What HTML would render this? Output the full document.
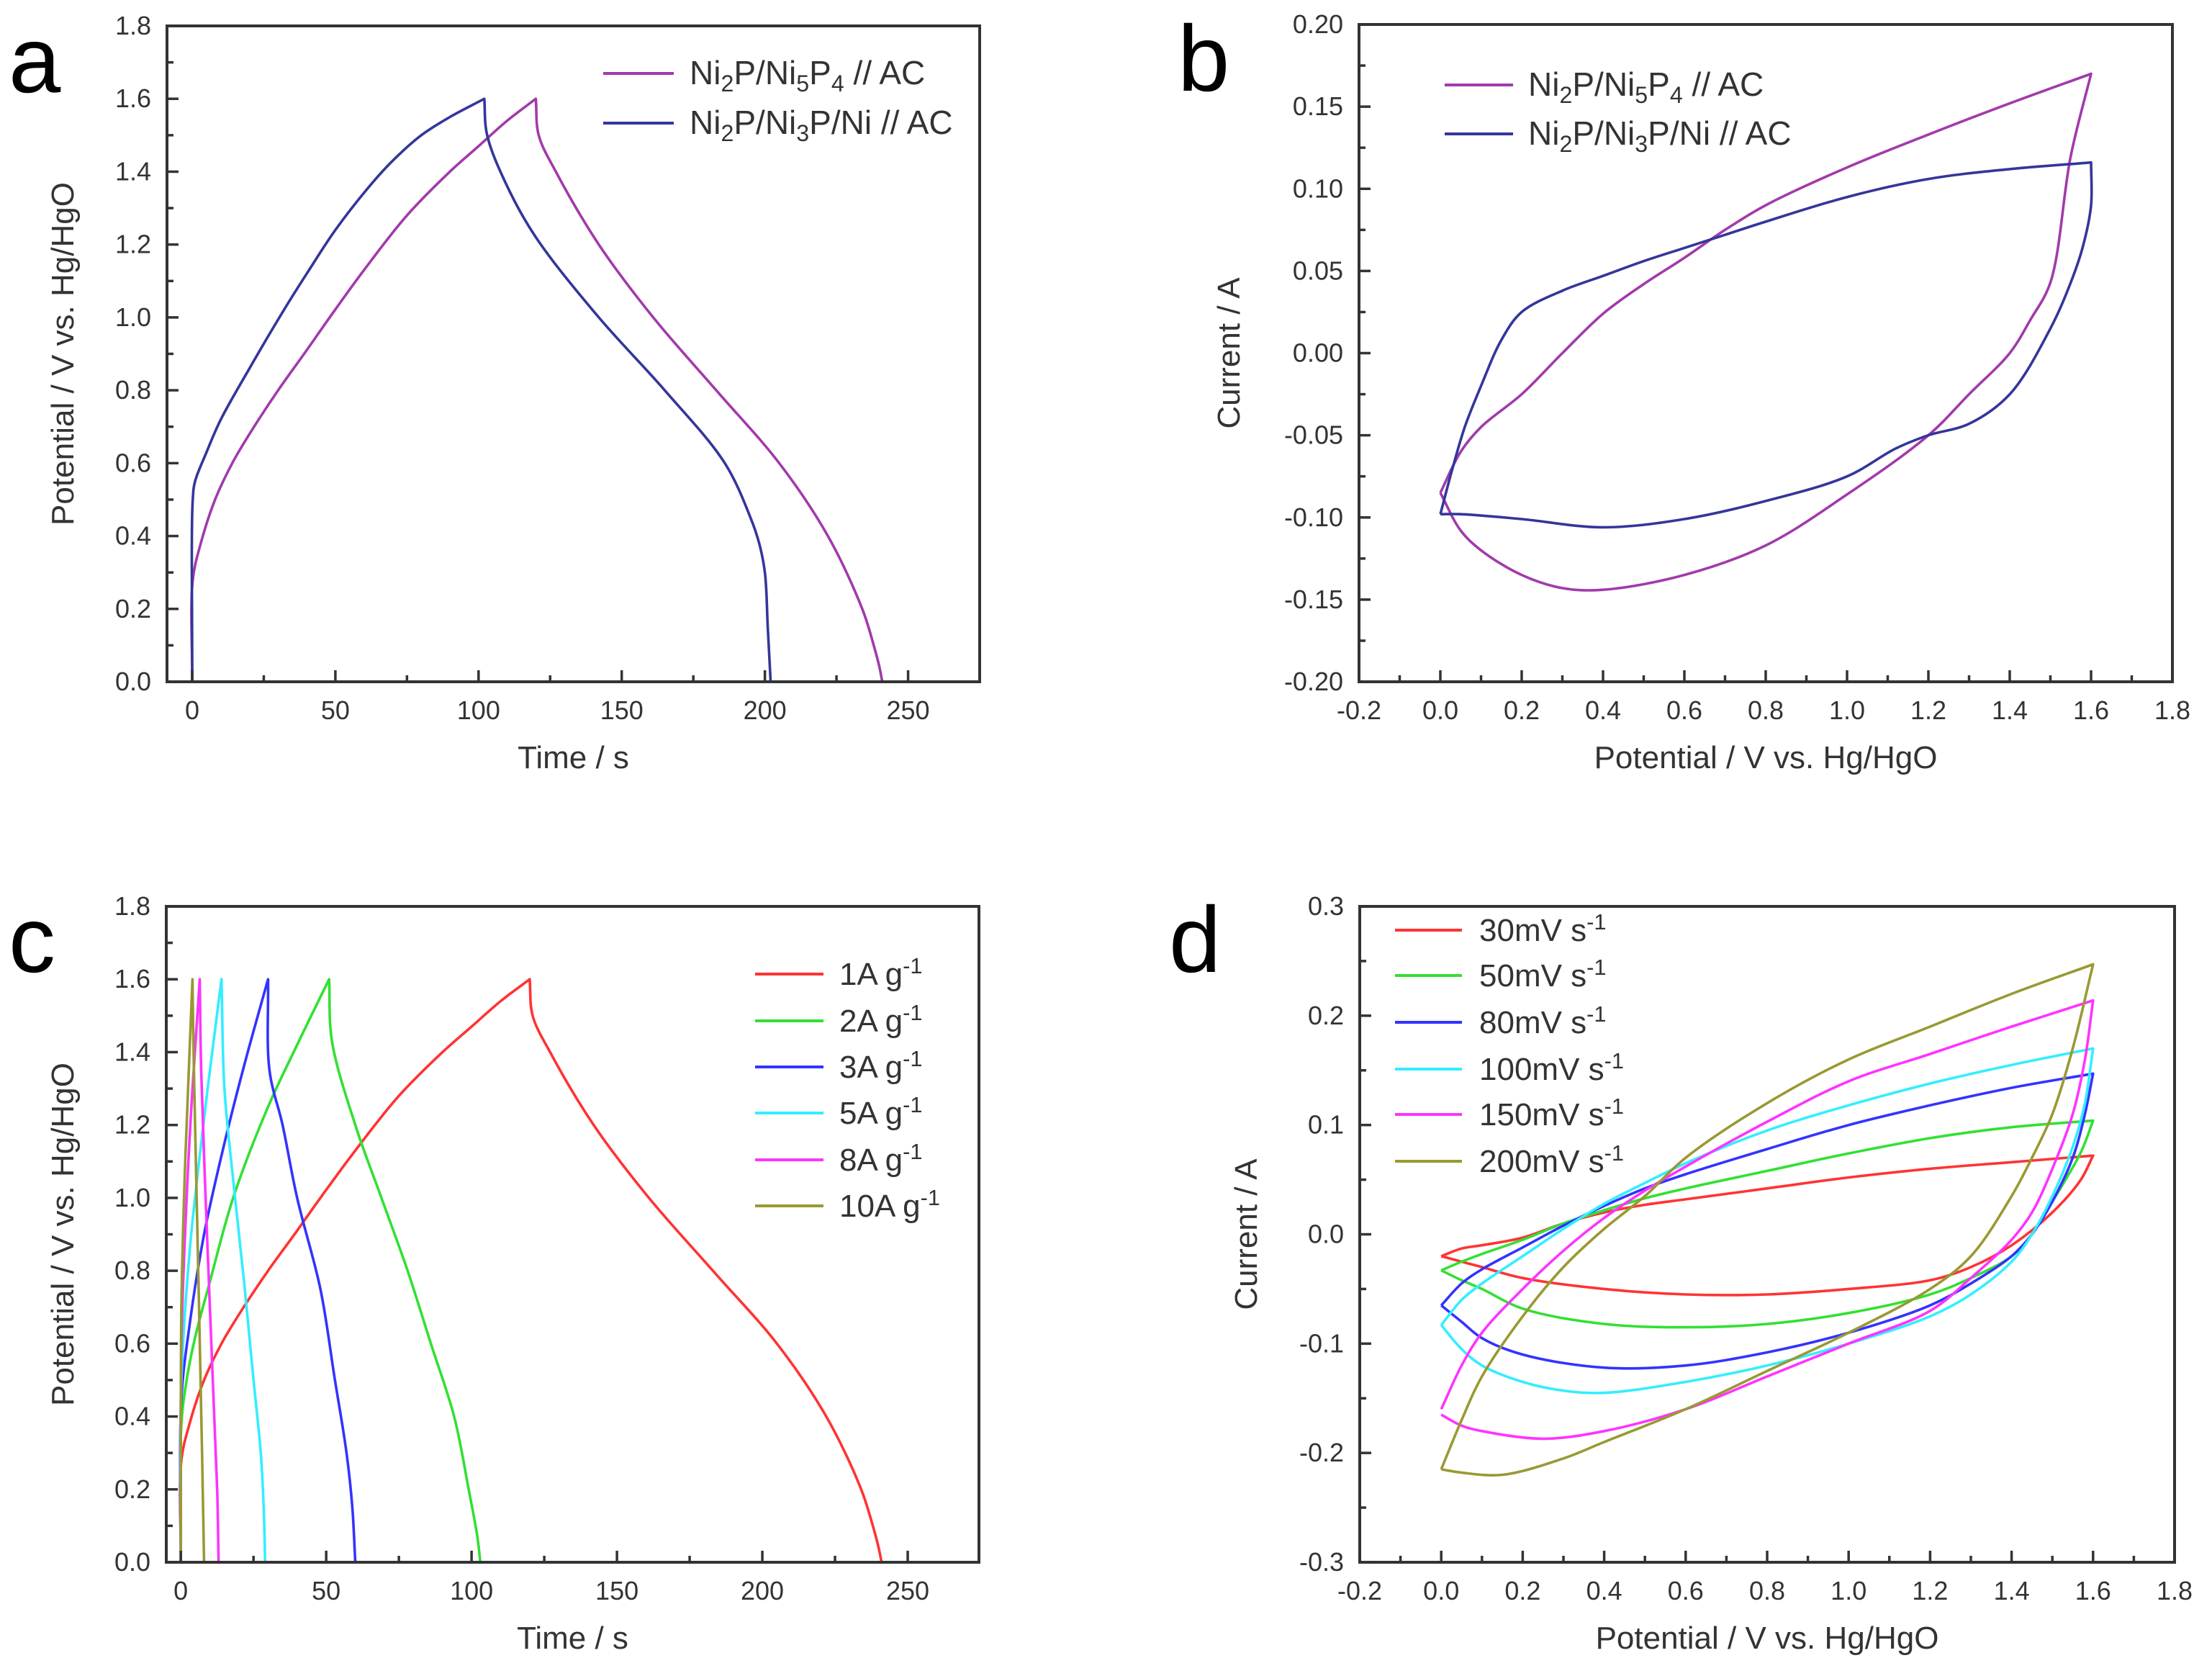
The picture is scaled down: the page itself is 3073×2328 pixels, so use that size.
<!DOCTYPE html>
<html><head><meta charset="utf-8">
<style>
html,body{margin:0;padding:0;background:#fff;}
svg{display:block;font-family:"Liberation Sans",Arial,sans-serif;}
</style></head>
<body>
<svg id="fig" width="3073" height="2328" viewBox="0 0 3073 2328" xmlns="http://www.w3.org/2000/svg">
<rect width="3073" height="2328" fill="#fff"/>
</svg>
<script>
// ---------- Panel a data ----------
const aMagT=[0,0.2,3,8,14,20,30,40,48,60,75,90,100,110,120,121,127,142,161,183,205,222,234,238,240,241];
const aMagV=[0,0.28,0.38,0.5,0.6,0.68,0.8,0.91,1.0,1.13,1.28,1.4,1.47,1.54,1.6,1.5,1.4,1.2,1.0,0.8,0.6,0.4,0.2,0.1,0.04,0];
const aBluT=[0,0.2,1,5,10,20,32,40,50,63,70,80,90,102,103,110,120,142,165,186,195,198,200,201,202];
const aBluV=[0,0.5,0.55,0.63,0.72,0.86,1.02,1.12,1.24,1.37,1.43,1.5,1.55,1.6,1.5,1.36,1.22,1.0,0.8,0.6,0.45,0.38,0.3,0.15,0];
// ---------- Panel b data ----------
const bMagX=[0,0.05,0.1,0.2,0.3,0.4,0.5,0.6,0.7,0.8,1.0,1.2,1.4,1.6,1.55,1.5,1.45,1.4,1.3,1.2,1.0,0.8,0.6,0.4,0.3,0.2,0.1,0.05,0];
const bMagY=[-0.085,-0.06,-0.045,-0.025,0,0.024,0.042,0.058,0.075,0.09,0.113,0.133,0.152,0.17,0.12,0.043,0.02,0.0,-0.025,-0.05,-0.086,-0.117,-0.135,-0.144,-0.143,-0.135,-0.12,-0.108,-0.085];
const bBluX=[0,0.03,0.06,0.1,0.15,0.2,0.3,0.4,0.5,0.6,0.7,0.8,1.0,1.2,1.4,1.6,1.6,1.58,1.55,1.5,1.4,1.3,1.2,1.12,1.0,0.8,0.6,0.4,0.2,0.05,0];
const bBluY=[-0.098,-0.07,-0.045,-0.02,0.008,0.025,0.038,0.047,0.056,0.064,0.072,0.08,0.095,0.106,0.112,0.116,0.09,0.065,0.043,0.015,-0.025,-0.043,-0.05,-0.058,-0.075,-0.09,-0.101,-0.106,-0.101,-0.098,-0.098];
// ---------- Panel c data ----------
const cLabels=["1A g","2A g","3A g","5A g","8A g","10A g"];
const c1T=[0,0.2,3,8,14,20,30,40,48,60,75,90,100,110,120,121,127,142,161,183,205,222,234,238,240,241];
const c1V=[0,0.28,0.38,0.5,0.6,0.68,0.8,0.91,1.0,1.13,1.28,1.4,1.47,1.54,1.6,1.5,1.4,1.2,1.0,0.8,0.6,0.4,0.2,0.1,0.04,0];
const c2T=[0,0.2,2,5,10,18,30,40,51,52,60,69,78,86,94,99,102,103];
const c2V=[0,0.38,0.5,0.62,0.77,1.0,1.25,1.42,1.6,1.43,1.2,1.0,0.8,0.6,0.4,0.2,0.07,0];
const c3T=[0,0.2,3,8,15,22,30,30.5,35,40,48,53,57,59,60];
const c3V=[0,0.45,0.65,0.9,1.15,1.37,1.6,1.35,1.2,1.0,0.75,0.5,0.3,0.15,0];
const c5T=[0,0.2,3,7,10,14,15,18,22,25,27.5,28.5,29];
const c5V=[0,0.5,0.85,1.15,1.35,1.6,1.3,1.05,0.75,0.5,0.3,0.15,0];
const c8T=[0,0.2,2,4,6.5,7,9,11,12.5,13];
const c8V=[0,0.6,1.0,1.3,1.6,1.35,0.9,0.5,0.2,0];
const c10T=[0,0.2,1.5,3,4,4.5,6,7.3,8];
const c10V=[0,0.7,1.1,1.4,1.6,1.35,0.8,0.3,0];
// ---------- Panel d data ----------
const dLabels=["30mV s","50mV s","80mV s","100mV s","150mV s","200mV s"];
const d30X=[0,0.05,0.1,0.2,0.3,0.4,0.5,0.6,0.8,1.0,1.2,1.4,1.6,1.57,1.5,1.4,1.3,1.2,1.0,0.8,0.6,0.4,0.2,0.1,0.05,0];
const d30Y=[-0.02,-0.013,-0.01,-0.003,0.01,0.02,0.027,0.032,0.042,0.052,0.06,0.066,0.072,0.05,0.02,-0.01,-0.03,-0.042,-0.05,-0.055,-0.055,-0.05,-0.04,-0.03,-0.025,-0.02];
const d50X=[0,0.05,0.1,0.2,0.3,0.4,0.5,0.6,0.8,1.0,1.2,1.4,1.6,1.57,1.5,1.45,1.4,1.3,1.2,1.0,0.8,0.6,0.4,0.2,0.1,0.05,0];
const d50Y=[-0.033,-0.025,-0.018,-0.005,0.01,0.022,0.033,0.042,0.058,0.074,0.088,0.098,0.104,0.075,0.03,0.0,-0.02,-0.04,-0.055,-0.072,-0.082,-0.085,-0.082,-0.068,-0.05,-0.042,-0.033];
const d80X=[0,0.05,0.1,0.2,0.3,0.4,0.5,0.6,0.8,1.0,1.2,1.4,1.6,1.58,1.55,1.5,1.45,1.4,1.3,1.2,1.0,0.8,0.6,0.4,0.2,0.1,0.05,0];
const d80Y=[-0.065,-0.045,-0.032,-0.012,0.008,0.026,0.042,0.055,0.078,0.1,0.118,0.134,0.147,0.11,0.07,0.03,0.0,-0.02,-0.045,-0.065,-0.09,-0.108,-0.12,-0.122,-0.11,-0.095,-0.08,-0.065];
const d100X=[0,0.05,0.1,0.2,0.3,0.4,0.5,0.6,0.8,1.0,1.2,1.4,1.6,1.58,1.55,1.5,1.45,1.4,1.3,1.2,1.0,0.8,0.6,0.4,0.3,0.2,0.1,0.05,0];
const d100Y=[-0.083,-0.06,-0.045,-0.02,0.005,0.028,0.047,0.065,0.095,0.118,0.138,0.155,0.17,0.12,0.08,0.035,0.0,-0.025,-0.055,-0.075,-0.1,-0.12,-0.135,-0.145,-0.143,-0.135,-0.12,-0.105,-0.083];
const d150X=[0,0.05,0.1,0.2,0.3,0.4,0.5,0.6,0.8,1.0,1.2,1.4,1.6,1.58,1.55,1.5,1.45,1.4,1.3,1.2,1.0,0.8,0.6,0.4,0.25,0.1,0.05,0];
const d150Y=[-0.16,-0.12,-0.09,-0.05,-0.015,0.015,0.04,0.062,0.103,0.14,0.165,0.19,0.214,0.16,0.11,0.06,0.02,-0.005,-0.04,-0.07,-0.1,-0.13,-0.16,-0.18,-0.187,-0.18,-0.175,-0.165];
const d200X=[0,0.05,0.1,0.2,0.3,0.4,0.5,0.6,0.8,1.0,1.2,1.4,1.6,1.55,1.5,1.45,1.4,1.3,1.2,1.0,0.8,0.6,0.4,0.3,0.15,0.05,0];
const d200Y=[-0.215,-0.17,-0.13,-0.075,-0.03,0.005,0.035,0.07,0.12,0.16,0.19,0.22,0.247,0.17,0.11,0.07,0.035,-0.02,-0.05,-0.09,-0.125,-0.16,-0.19,-0.205,-0.22,-0.218,-0.215];

const NS="http://www.w3.org/2000/svg";
const svg=document.getElementById('fig');
function mk(tag,attrs,parent){const e=document.createElementNS(NS,tag);for(const k in attrs)e.setAttribute(k,attrs[k]);(parent||svg).appendChild(e);return e;}

// centripetal Catmull-Rom path, broken at sharp corners
function smoothPath(P){
  const n=P.length;
  const corner=new Array(n).fill(false);
  corner[0]=corner[n-1]=true;
  for(let i=1;i<n-1;i++){
    const ax=P[i][0]-P[i-1][0],ay=P[i][1]-P[i-1][1],bx=P[i+1][0]-P[i][0],by=P[i+1][1]-P[i][1];
    const la=Math.hypot(ax,ay),lb=Math.hypot(bx,by);
    if(la<1e-6||lb<1e-6){corner[i]=true;continue;}
    const c=(ax*bx+ay*by)/(la*lb);
    if(c<0.45)corner[i]=true;
  }
  const dist=(a,b)=>Math.max(1e-3,Math.pow(Math.hypot(a[0]-b[0],a[1]-b[1]),0.5));
  let d='M'+P[0][0].toFixed(1)+','+P[0][1].toFixed(1);
  for(let i=0;i<n-1;i++){
    const p1=P[i],p2=P[i+1];
    const p0=corner[i]?null:P[i-1],p3=corner[i+1]?null:P[i+2];
    const d2=dist(p1,p2);
    let c1=[p1[0]+(p2[0]-p1[0])/3,p1[1]+(p2[1]-p1[1])/3],c2=[p2[0]-(p2[0]-p1[0])/3,p2[1]-(p2[1]-p1[1])/3];
    if(p0){const d1=dist(p0,p1),nn=3*d1*(d1+d2);
      c1=[(d1*d1*p2[0]-d2*d2*p0[0]+(2*d1*d1+3*d1*d2+d2*d2)*p1[0])/nn,(d1*d1*p2[1]-d2*d2*p0[1]+(2*d1*d1+3*d1*d2+d2*d2)*p1[1])/nn];}
    if(p3){const d3=dist(p2,p3),nn=3*d3*(d3+d2);
      c2=[(d3*d3*p1[0]-d2*d2*p3[0]+(2*d3*d3+3*d3*d2+d2*d2)*p2[0])/nn,(d3*d3*p1[1]-d2*d2*p3[1]+(2*d3*d3+3*d3*d2+d2*d2)*p2[1])/nn];}
    d+='C'+c1[0].toFixed(1)+','+c1[1].toFixed(1)+' '+c2[0].toFixed(1)+','+c2[1].toFixed(1)+' '+p2[0].toFixed(1)+','+p2[1].toFixed(1);
  }
  return d;
}

function panel(cfg){
  const g=mk('g',{});
  
  
  const L=cfg.L,R=cfg.R,T=cfg.T,B=cfg.B;
  const sx=v=>L+(v-cfg.x0)/(cfg.x1-cfg.x0)*(R-L);
  const sy=v=>B-(v-cfg.y0)/(cfg.y1-cfg.y0)*(B-T);
  cfg.series.forEach((s,i)=>{
    const pts=s.x.map((xv,j)=>[sx(xv),sy(s.y[j])]);
    const p=mk('path',{d:smoothPath(pts),fill:'none',stroke:s.color,'stroke-width':3.6,'stroke-linejoin':'round'},g);
    
    
  });
  const fr=mk('rect',{x:L,y:T,width:R-L,height:B-T,fill:'none',stroke:'#333','stroke-width':4},g);
  
  
  const nx=Math.round((cfg.x1t-cfg.x0t)/cfg.xminor);
  for(let k=0;k<=nx;k++){
    const v=cfg.x0t+k*cfg.xminor;const major=k%2===0;const X=sx(v);
    if(X<L-1||X>R+1)continue;
    mk('line',{x1:X,x2:X,y1:B,y2:B-(major?16:9),stroke:'#333','stroke-width':3.5},g);
    if(major){const t=mk('text',{x:X,y:B+52,'text-anchor':'middle','font-size':36,fill:'#333'},g);
      t.textContent=cfg.xfmt(v);
      
      }
  }
  const ny=Math.round((cfg.y1-cfg.y0)/cfg.yminor);
  for(let k=0;k<=ny;k++){
    const v=cfg.y0+k*cfg.yminor;const major=k%2===0;const Y=sy(v);
    mk('line',{x1:L,x2:L+(major?16:9),y1:Y,y2:Y,stroke:'#333','stroke-width':3.5},g);
    if(major){const t=mk('text',{x:L-22,y:Y+12,'text-anchor':'end','font-size':36,fill:'#333'},g);
      t.textContent=cfg.yfmt(v);
      
      }
  }
  const xt=mk('text',{x:(L+R)/2,y:B+120,'text-anchor':'middle','font-size':44,fill:'#333'},g);
  xt.textContent=cfg.xtitle;
  
  
  const yx=cfg.ytx,yy=(T+B)/2;
  const yt=mk('text',{x:yx,y:yy,'text-anchor':'middle','font-size':44,fill:'#333',transform:'rotate(-90 '+yx+' '+yy+')'},g);
  yt.textContent=cfg.ytitle;
  
  
  const pl=mk('text',{x:cfg.lx,y:cfg.ly,'font-size':130,fill:'#000'},g);
  pl.textContent=cfg.letter;
  
  
  cfg.series.forEach((s,i)=>{
    const Y=cfg.legY[i];
    const lg=mk('g',{},g);
    
    
    mk('line',{x1:cfg.legX1,x2:cfg.legX2,y1:Y,y2:Y,stroke:s.color,'stroke-width':4},lg);
    const t=mk('text',{x:cfg.legTX,y:Y+15,'font-size':cfg.legFS,fill:'#333'},lg);
    s.label(t);
  });
}
function seg(t,str,dy,small){const ts=document.createElementNS(NS,'tspan');if(small)ts.setAttribute('font-size','0.7em');if(dy)ts.setAttribute('dy',dy);ts.textContent=str;t.appendChild(ts);return ts;}
function labNi5(t){seg(t,'Ni');seg(t,'2',10,1);seg(t,'P/Ni',-10);seg(t,'5',10,1);seg(t,'P',-10);seg(t,'4',10,1);seg(t,' // AC',-10);}
function labNi3(t){seg(t,'Ni');seg(t,'2',10,1);seg(t,'P/Ni',-10);seg(t,'3',10,1);seg(t,'P/Ni // AC',-10);}
function labSup(str){return t=>{seg(t,str);seg(t,'-1',-16,1);};}

const aCols=['#a23aaa','#34369a'];
panel({name:'panel-a',letter:'a',lx:12,ly:128,L:232,R:1361,T:36,B:947,x0:-8.8,x1:275,y0:0,y1:1.8,
  x0t:0,x1t:275,xminor:25,yminor:0.1,xfmt:v=>v.toFixed(0),yfmt:v=>v.toFixed(1),
  xtitle:'Time / s',ytitle:'Potential / V vs. Hg/HgO',ytx:102,
  legX1:838,legX2:936,legTX:958,legY:[102,171],legFS:46,
  series:[{id:'series-ni2p-ni5p4',x:aMagT,y:aMagV,color:aCols[0],label:labNi5},
          {id:'series-ni2p-ni3p-ni',x:aBluT,y:aBluV,color:aCols[1],label:labNi3}]});
panel({name:'panel-b',letter:'b',lx:1636,ly:126,L:1888,R:3018,T:34,B:947,x0:-0.2,x1:1.8,y0:-0.2,y1:0.2,
  x0t:-0.2,x1t:1.8,xminor:0.1,yminor:0.025,xfmt:v=>v.toFixed(1),yfmt:v=>v.toFixed(2),
  xtitle:'Potential / V vs. Hg/HgO',ytitle:'Current / A',ytx:1722,
  legX1:2007,legX2:2102,legTX:2123,legY:[118,186],legFS:46,
  series:[{id:'series-ni2p-ni5p4',x:bMagX,y:bMagY,color:aCols[0],label:labNi5},
          {id:'series-ni2p-ni3p-ni',x:bBluX,y:bBluY,color:aCols[1],label:labNi3}]});
const cCols=['#ff3333','#33e033','#3333ff','#33eeff','#ff33ff','#999933'];
const cX=[c1T,c2T,c3T,c5T,c8T,c10T],cY=[c1V,c2V,c3V,c5V,c8V,c10V];
panel({name:'panel-c',letter:'c',lx:12,ly:1350,L:231,R:1360,T:1259,B:2170,x0:-5,x1:274.5,y0:0,y1:1.8,
  x0t:0,x1t:275,xminor:25,yminor:0.1,xfmt:v=>v.toFixed(0),yfmt:v=>v.toFixed(1),
  xtitle:'Time / s',ytitle:'Potential / V vs. Hg/HgO',ytx:102,
  legX1:1049,legX2:1144,legTX:1166,legY:[1353,1418,1482,1546,1611,1675],legFS:44,
  series:cLabels.map((l,i)=>({id:'series-'+l.replace(/\s/g,''),x:cX[i],y:cY[i],color:cCols[i],label:labSup(l)}))});
const dX=[d30X,d50X,d80X,d100X,d150X,d200X],dY=[d30Y,d50Y,d80Y,d100Y,d150Y,d200Y];
panel({name:'panel-d',letter:'d',lx:1624,ly:1350,L:1889,R:3021,T:1259,B:2170,x0:-0.2,x1:1.8,y0:-0.3,y1:0.3,
  x0t:-0.2,x1t:1.8,xminor:0.1,yminor:0.05,xfmt:v=>v.toFixed(1),yfmt:v=>v.toFixed(1),
  xtitle:'Potential / V vs. Hg/HgO',ytitle:'Current / A',ytx:1746,
  legX1:1938,legX2:2031,legTX:2055,legY:[1292,1355,1420,1485,1548,1613],legFS:44,
  series:dLabels.map((l,i)=>({id:'series-'+l.replace(/\s/g,''),x:dX[i],y:dY[i],color:cCols[i],label:labSup(l)}))});
</script>
</body></html>
